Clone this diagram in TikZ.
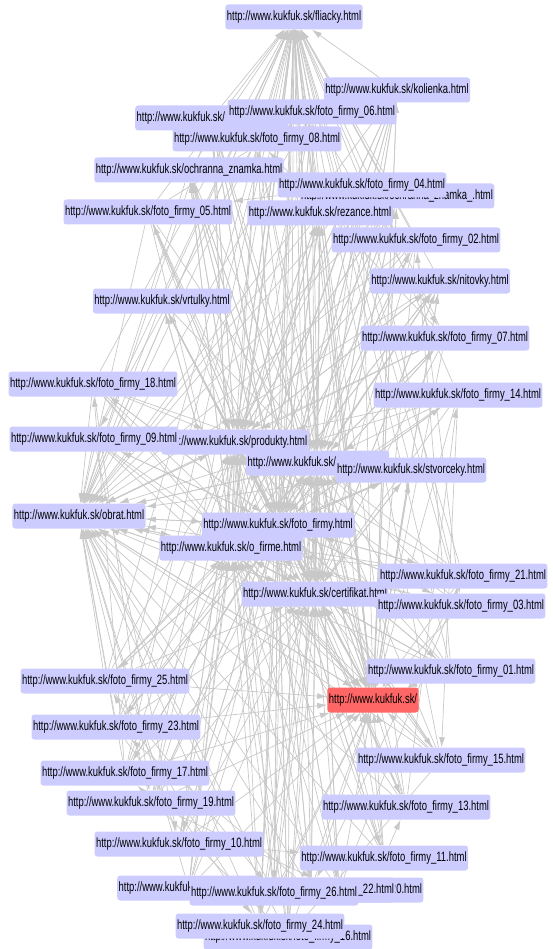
\documentclass[tikz,border=0pt]{standalone}
\usepackage{fontspec}
\usepackage{tikz}
\usetikzlibrary{arrows.meta,backgrounds}
\newfontfamily\urlfont{Liberation Sans}[FakeStretch=0.7]
\definecolor{pageblue}{RGB}{204,204,255}
\definecolor{homered}{RGB}{255,102,102}
\definecolor{linkgray}{RGB}{200,200,200}
\tikzset{
  >={Latex[length=10pt,width=6pt]},
}
\tikzstyle{page}=[fill=pageblue,rounded corners=3pt,inner xsep=1.5pt,inner ysep=0pt,
  minimum height=25pt,font=\urlfont\fontsize{13.5pt}{15pt}\selectfont]
\tikzstyle{cut}=[page,anchor=west,text width=140pt,align=left]
\tikzstyle{link}=[->,draw=linkgray,line width=0.7pt]

\begin{document}
\begin{tikzpicture}[x=1pt,y=-1pt]
    \useasboundingbox (0,0) rectangle (552,949);
    % pages, upper half
    \node[page] (fli) at (294,17) {http://www.kukfuk.sk/fliacky.html};
    \node[page] (kol) at (397,90) {http://www.kukfuk.sk/kolienka.html};
    \node[cut,text width=150pt] (htop) at (135,118) {http://www.kukfuk.sk/};
    \node[page] (f06) at (312,112) {http://www.kukfuk.sk/foto\_firmy\_06.html};
    \node[page] (f08) at (257,139) {http://www.kukfuk.sk/foto\_firmy\_08.html};
    \node[page] (och) at (189,170) {http://www.kukfuk.sk/ochranna\_znamka.html};
    \node[page] (och2) at (397,196) {http://www.kukfuk.sk/ochranna\_znamka\_.html};
    \node[page] (f04) at (362,185) {http://www.kukfuk.sk/foto\_firmy\_04.html};
    \node[page] (f05) at (148,212) {http://www.kukfuk.sk/foto\_firmy\_05.html};
    \node[page] (rez) at (320,213) {http://www.kukfuk.sk/rezance.html};
    \node[page] (f02) at (416,240) {http://www.kukfuk.sk/foto\_firmy\_02.html};
    \node[page] (nit) at (440,281) {http://www.kukfuk.sk/nitovky.html};
    \node[page] (vrt) at (162,301) {http://www.kukfuk.sk/vrtulky.html};
    \node[page] (f07) at (445,338) {http://www.kukfuk.sk/foto\_firmy\_07.html};
    \node[page] (f18) at (93,384) {http://www.kukfuk.sk/foto\_firmy\_18.html};
    \node[page] (f14) at (458,395) {http://www.kukfuk.sk/foto\_firmy\_14.html};
    \node[page] (pro) at (235,442) {http://www.kukfuk.sk/produkty.html};
    \node[page] (f09) at (94,439) {http://www.kukfuk.sk/foto\_firmy\_09.html};
    \node[cut] (hmid) at (246,463) {http://www.kukfuk.sk/};
    \node[page] (stv) at (411,470) {http://www.kukfuk.sk/stvorceky.html};
    % pages, lower half
    \node[page] (obr) at (79,516) {http://www.kukfuk.sk/obrat.html};
    \node[page] (ff) at (278,525) {http://www.kukfuk.sk/foto\_firmy.html};
    \node[page] (ofi) at (231,548) {http://www.kukfuk.sk/o\_firme.html};
    \node[page] (cer) at (315,594) {http://www.kukfuk.sk/certifikat.html};
    \node[page] (f21) at (463,576) {http://www.kukfuk.sk/foto\_firmy\_21.html};
    \node[page] (f03) at (461,606) {http://www.kukfuk.sk/foto\_firmy\_03.html};
    \node[page] (f01) at (451,671) {http://www.kukfuk.sk/foto\_firmy\_01.html};
    \node[page,fill=homered] (home) at (373,700) {http://www.kukfuk.sk/};
    \node[page] (f25) at (105,681) {http://www.kukfuk.sk/foto\_firmy\_25.html};
    \node[page] (f23) at (116,727) {http://www.kukfuk.sk/foto\_firmy\_23.html};
    \node[page] (f15) at (441,760) {http://www.kukfuk.sk/foto\_firmy\_15.html};
    \node[page] (f17) at (125,773) {http://www.kukfuk.sk/foto\_firmy\_17.html};
    \node[page] (f19) at (151,803) {http://www.kukfuk.sk/foto\_firmy\_19.html};
    \node[page] (f13) at (406,807) {http://www.kukfuk.sk/foto\_firmy\_13.html};
    \node[page] (f10) at (179,844) {http://www.kukfuk.sk/foto\_firmy\_10.html};
    \node[page] (f11) at (384,858) {http://www.kukfuk.sk/foto\_firmy\_11.html};
    \node[cut] (hbot) at (117,888) {http://www.kukfuk.sk/};
    \node[page] (f20) at (339,890) {http://www.kukfuk.sk/foto\_firmy\_20.html};
    \node[page] (f22) at (311,890) {http://www.kukfuk.sk/foto\_firmy\_22.html};
    \node[page] (f26) at (274,893) {http://www.kukfuk.sk/foto\_firmy\_26.html};
    \node[page] (f16) at (288,937) {http://www.kukfuk.sk/foto\_firmy\_16.html};
    \node[page] (f24) at (260,926) {http://www.kukfuk.sk/foto\_firmy\_24.html};

    \begin{pgfonlayer}{background}
    % every page links to the menu
    \foreach \src in {fli,kol,htop,f06,f08,och,och2,f04,f05,rez,f02,nit,vrt,f07,
        f18,f14,pro,f09,hmid,stv,obr,ff,ofi,cer,f21,f03,f01,home,f25,f23,f15,
        f17,f19,f13,f10,f11,hbot,f20,f22,f26,f16,f24}
      \foreach \dst in {pro,hmid,ofi,cer,ff,home,obr,fli}
        {\ifx\src\dst\else \draw[link] (\src) -- (\dst); \fi}
    % main pages link to the products
    \foreach \src in {pro,ofi,cer,ff,home}
      \foreach \dst in {kol,och,och2,rez,nit,vrt,stv,htop}
        \draw[link] (\src) -- (\dst);
    % gallery
    \foreach \dst in {f01,f02,f03,f04,f05,f06,f07,f08,f09,f10,f11,f13,f14,f15,
        f16,f17,f18,f19,f20,f21,f22,f23,f24,f25,f26}
      \draw[link] (ff) -- (\dst);
    \foreach \src/\dst in {f01/f02,f02/f03,f03/f04,f04/f05,f05/f06,f06/f07,f07/f08,
        f08/f09,f09/f10,f10/f11,f11/f13,f13/f14,f14/f15,f15/f16,f16/f17,f17/f18,
        f18/f19,f19/f20,f20/f21,f21/f22,f22/f23,f23/f24,f24/f25,f25/f26}
      \draw[link] (\src) -- (\dst);
    \end{pgfonlayer}
\end{tikzpicture}
\end{document}
